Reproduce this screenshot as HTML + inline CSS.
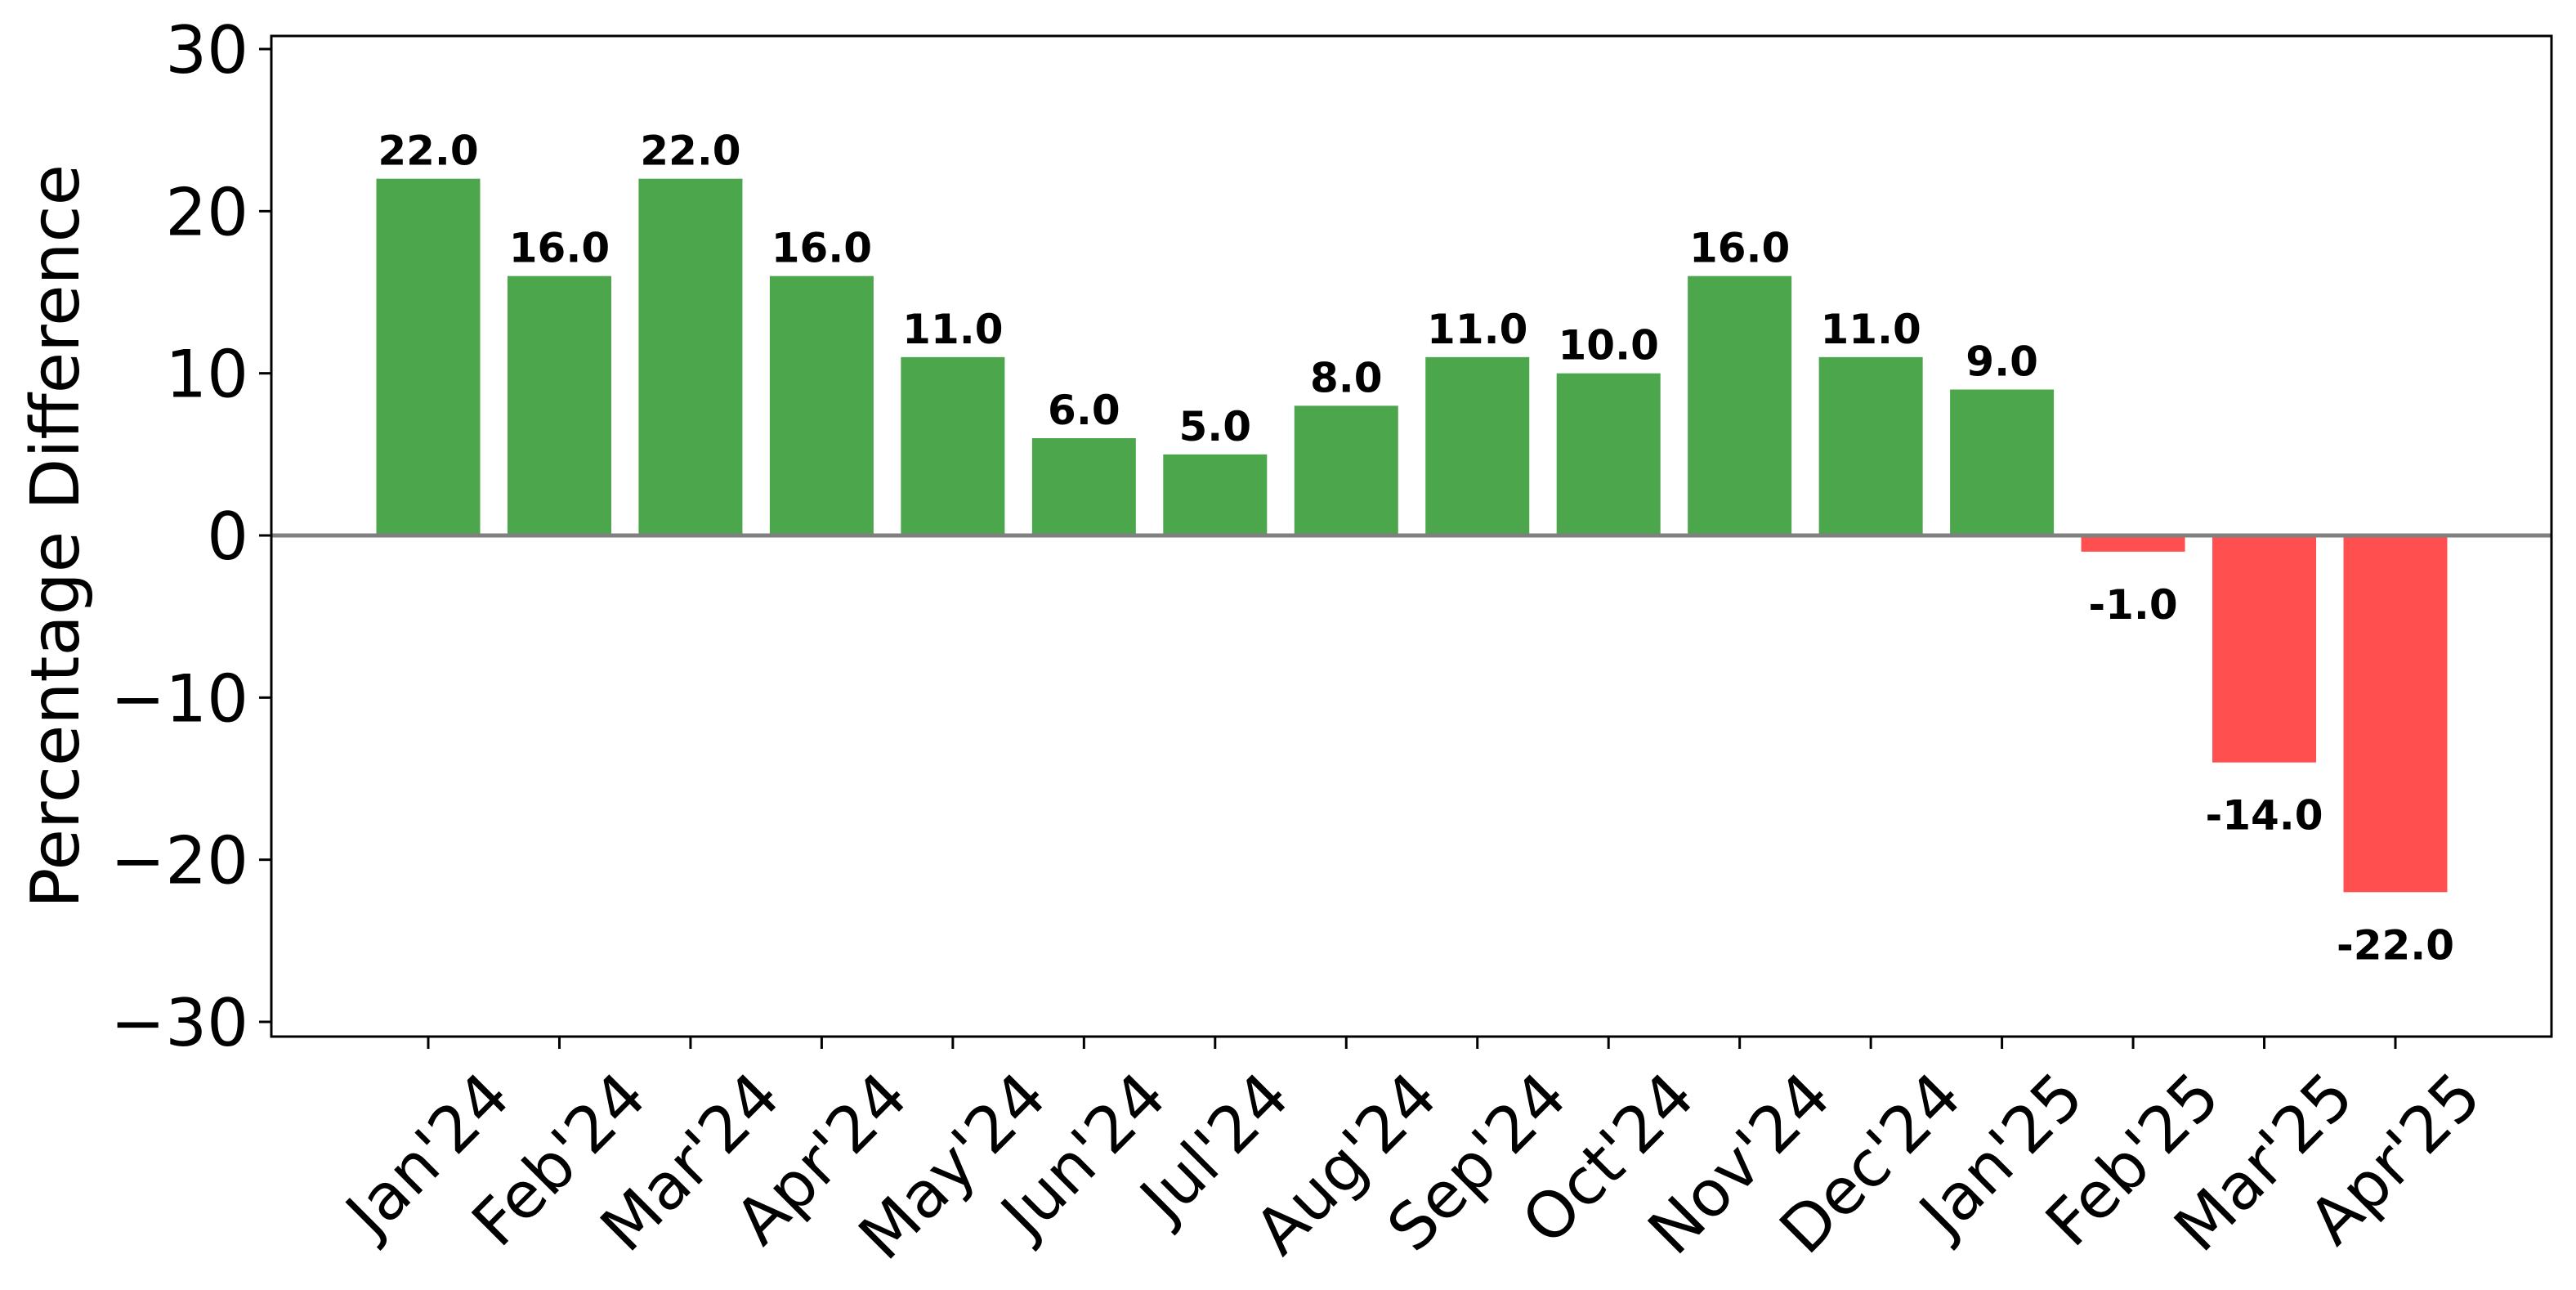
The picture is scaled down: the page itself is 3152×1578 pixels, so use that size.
<!DOCTYPE html>
<html><head><meta charset="utf-8"><style>
html,body{margin:0;padding:0;background:#fff}
svg{display:block}
text{font-family:"DejaVu Sans","Liberation Sans",sans-serif}
</style></head><body>
<svg id="chart" width="3152" height="1578" viewBox="0 0 3152 1578" xmlns="http://www.w3.org/2000/svg">
<rect x="0" y="0" width="3152" height="1578" fill="#fff"/>
<g id="bars"></g>
<g id="yaxis"></g>
<g id="xaxis"></g>
<text x="0" y="0" font-size="82" text-anchor="middle" transform="translate(96,656) rotate(-90)">Percentage Difference</text>
</svg>
<script>
const categories = ["Jan'24","Feb'24","Mar'24","Apr'24","May'24","Jun'24","Jul'24","Aug'24","Sep'24","Oct'24","Nov'24","Dec'24","Jan'25","Feb'25","Mar'25","Apr'25"];
const values = [22,16,22,16,11,6,5,8,11,10,16,11,9,-1,-14,-22];
const yTicks = [-30,-20,-10,0,10,20,30];
const yTickLabels = ["\u221230","\u221220","\u221210","0","10","20","30"];

const NS="http://www.w3.org/2000/svg";
const L=332,R=3122,T=44,B=1268;
const yZero=655, yPer=(1254-64)/60;
const x0=524, dx=(2931-524)/15, bw=127;
function xs(i){return x0+i*dx;}
function ys(v){return yZero - v*yPer;}
function mk(tag,attrs,parent){const e=document.createElementNS(NS,tag);for(const k in attrs)e.setAttribute(k,attrs[k]);parent.appendChild(e);return e;}
const svg=document.getElementById('chart');
const gb=document.getElementById('bars'),gy=document.getElementById('yaxis'),gx=document.getElementById('xaxis');

values.forEach((v,i)=>{
  const y1=ys(Math.max(v,0)),y2=ys(Math.min(v,0));
  const r=mk('rect',{x:xs(i)-bw/2,y:y1,width:bw,height:y2-y1,fill:v>=0?'#4ca64c':'#ff4f4f'},gb);
  
  
  const t=mk('text',{x:xs(i),y:v>=0?ys(v)-17:ys(v)+82,'font-size':50,'font-weight':'bold','text-anchor':'middle'},gb);
  t.textContent=v.toFixed(1);
  
  
});
const zl=mk('line',{x1:L,x2:R,y1:yZero,y2:yZero,stroke:'#808080','stroke-width':5},gb);



const frame=mk('rect',{x:L,y:T,width:R-L,height:B-T,fill:'none',stroke:'#000','stroke-width':3},svg);



yTicks.forEach((v,i)=>{
  const y=ys(v);
  const tk=mk('line',{x1:L-15,x2:L,y1:y,y2:y,stroke:'#000','stroke-width':3},gy);
  
  
  const t=mk('text',{x:L-28,y:y+29,'font-size':80,'text-anchor':'end'},gy);
  t.textContent=yTickLabels[i];
  
  
});

categories.forEach((c,i)=>{
  const x=xs(i);
  const tk=mk('line',{x1:x,x2:x,y1:B,y2:B+15,stroke:'#000','stroke-width':3},gx);
  
  
  const t=mk('text',{x:0,y:0,'font-size':78,'text-anchor':'middle','dominant-baseline':'central'},gx);
  t.textContent=c;
  
  
  const w=t.getComputedTextLength(), h=78*1.1;
  const bh=(w+h)/Math.SQRT2;
  const cy=B+15+14+bh/2;
  t.setAttribute('transform','translate('+x+','+cy+') rotate(-45)');
});
</script>
</body></html>
